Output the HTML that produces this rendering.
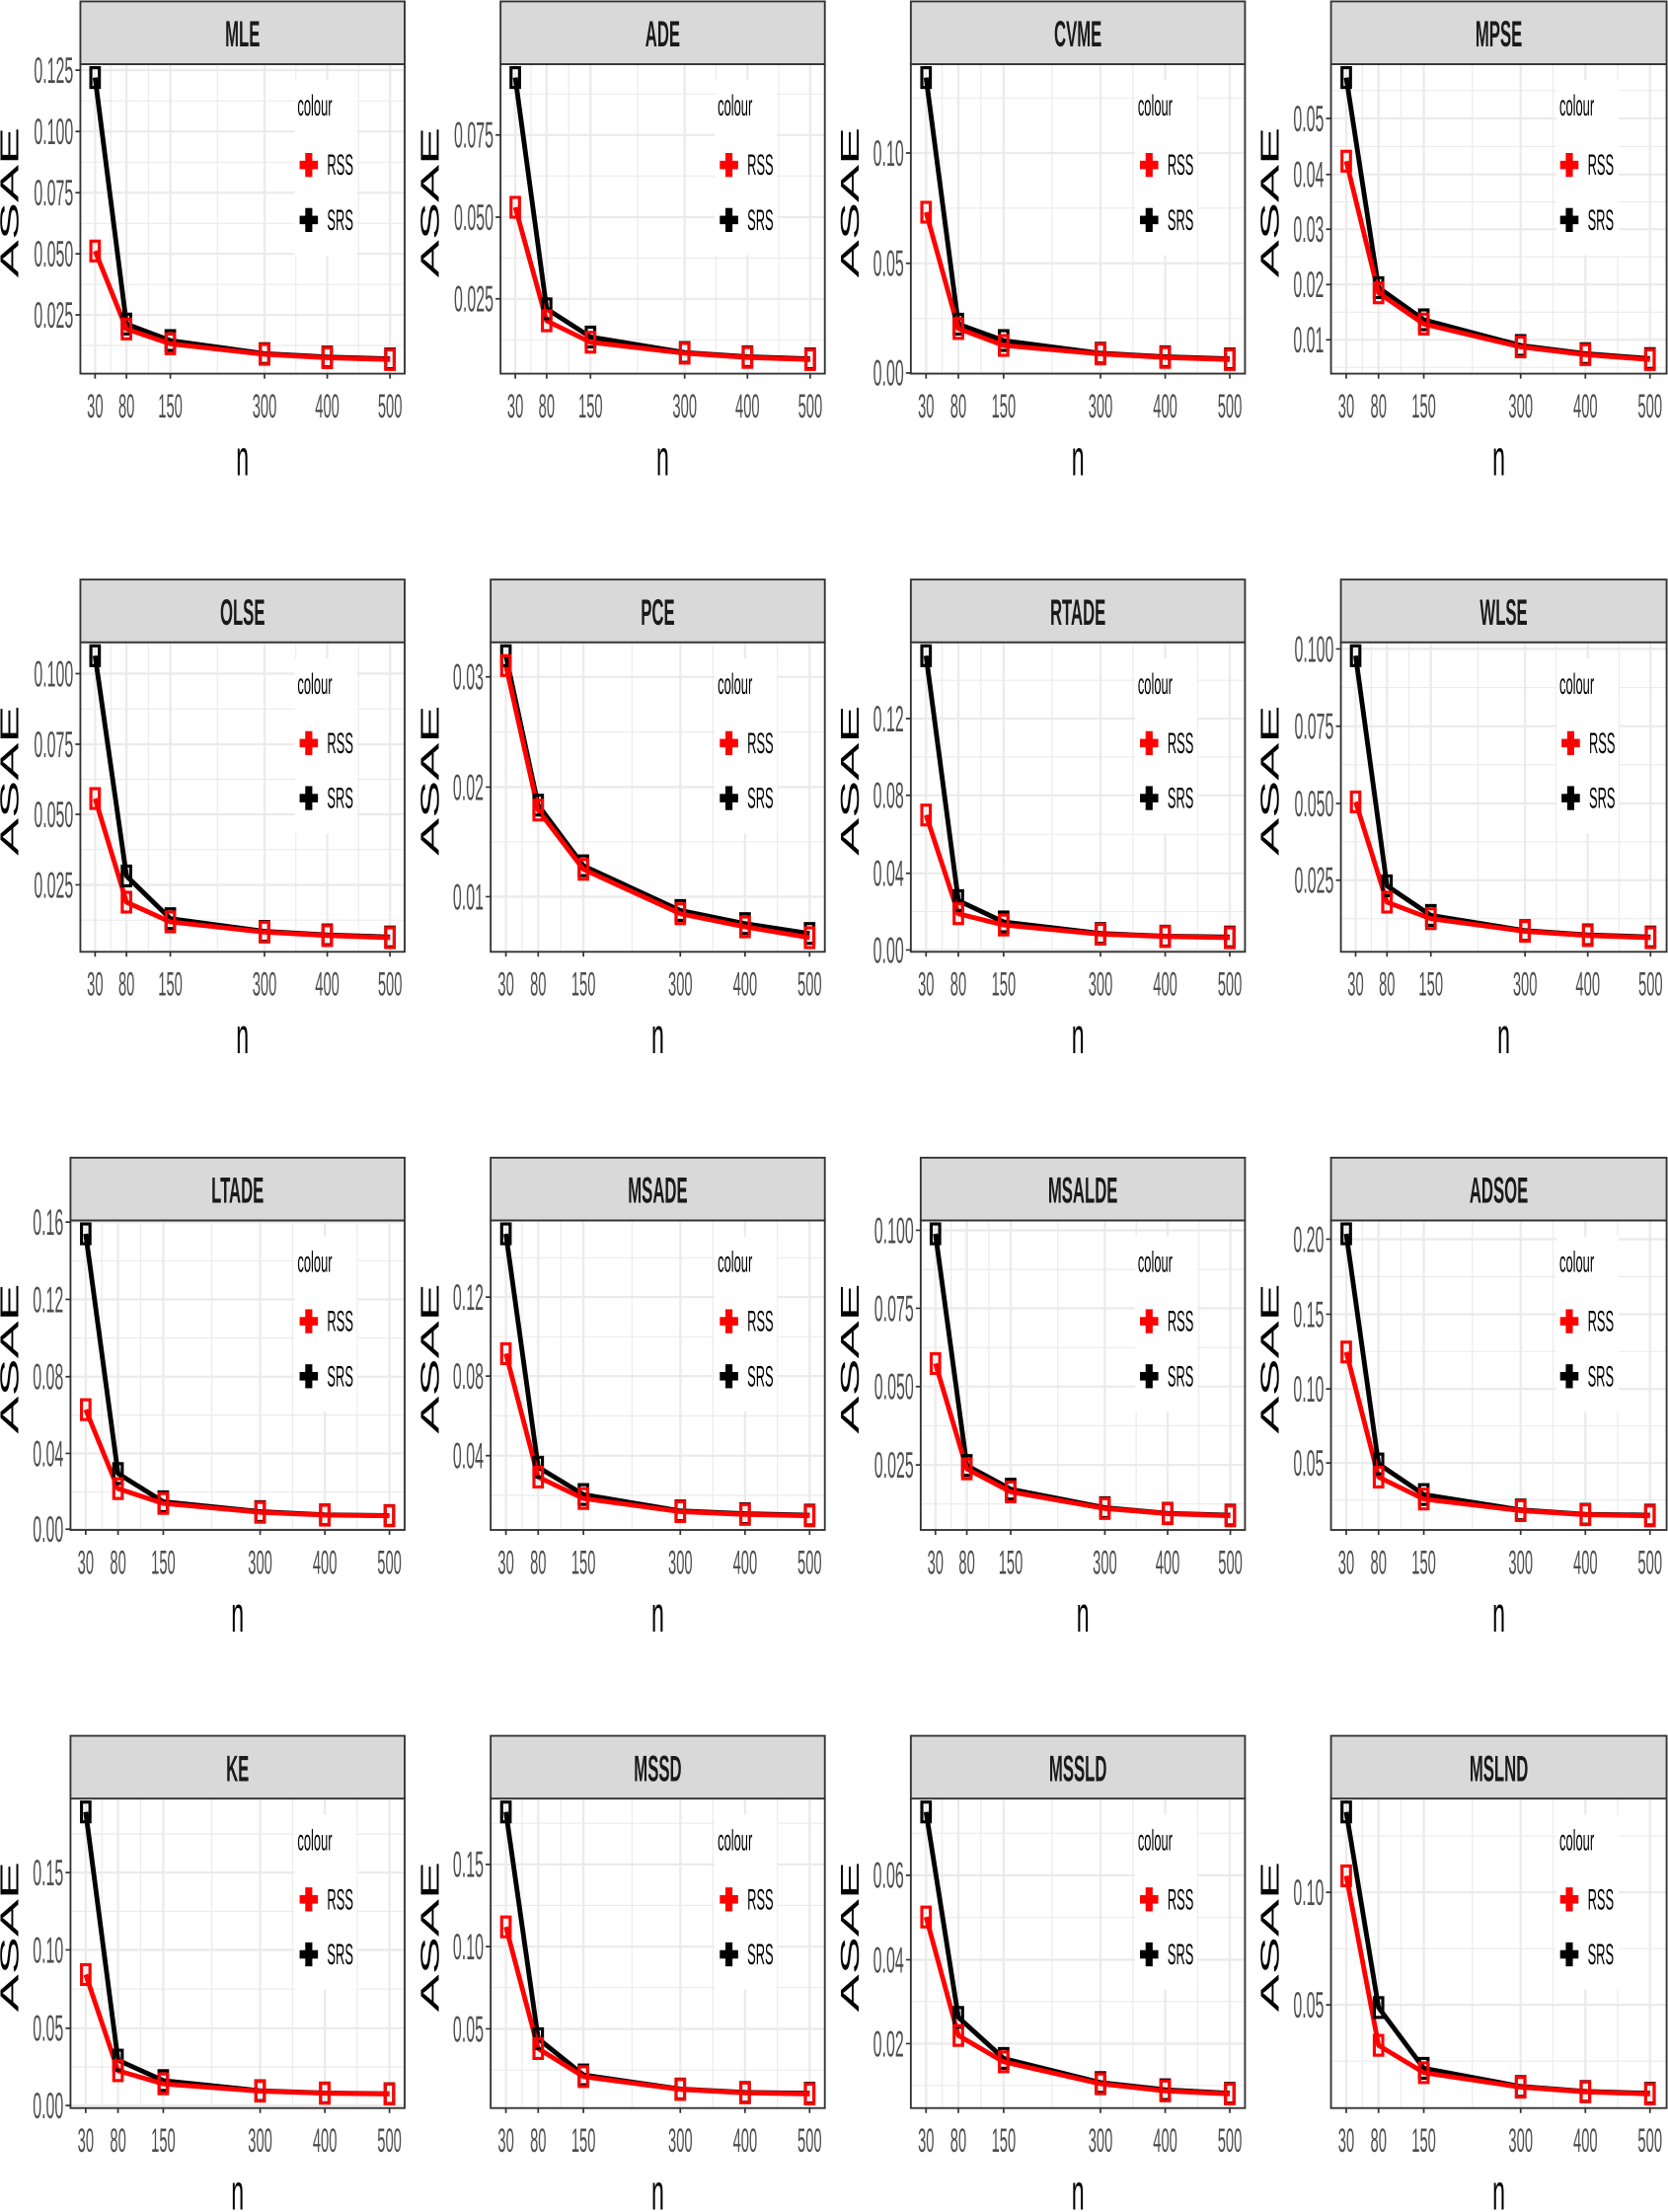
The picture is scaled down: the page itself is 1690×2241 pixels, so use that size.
<!DOCTYPE html>
<html><head><meta charset="utf-8"><style>
html,body{margin:0;padding:0;background:#fff}
svg{display:block}
text{font-family:"Liberation Sans",sans-serif}
.yt{font-size:26px;fill:#4d4d4d;text-anchor:end}
.xt{font-size:24px;fill:#4d4d4d;text-anchor:middle}
.st{font-size:26px;font-weight:bold;fill:#1a1a1a;text-anchor:middle}
.ax{font-size:36px;fill:#000;text-anchor:middle}
.yl{font-size:40px;fill:#000;text-anchor:middle}
.lg{font-size:21px;fill:#000}
.gm{stroke:#ebebeb;stroke-width:.8;fill:none}
.gM{stroke:#ebebeb;stroke-width:1.6;fill:none}
.sk{fill:none;stroke:#000;stroke-width:3.4;stroke-linejoin:round}
.sr{fill:none;stroke:#f00;stroke-width:3.4;stroke-linejoin:round}
.fr{fill:none;stroke:#333;stroke-width:1.3}
.sp{fill:#d9d9d9;stroke:#333;stroke-width:1.3}
.tk{stroke:#333;stroke-width:1.2;fill:none}
</style></head><body>
<svg width="1690" height="2241" viewBox="0 0 1183 1568.7" preserveAspectRatio="none" xmlns="http://www.w3.org/2000/svg" xmlns:xlink="http://www.w3.org/1999/xlink">
<defs>
<rect id="m" x="-3" y="-7" width="6" height="14" fill="none" stroke-width="2.2"/>
<g id="kR" fill="#f00"><rect x="-6.5" y="-3" width="13" height="6"/><rect x="-2.5" y="-8.5" width="5" height="17"/></g>
<g id="kS" fill="#000"><rect x="-6.5" y="-3" width="13" height="6"/><rect x="-2.5" y="-8.5" width="5" height="17"/></g>
<g id="vA"><path class="gm" d="M21.6 45.5V265M48.3 45.5V265M97.2 45.5V265M152.8 45.5V265M197.3 45.5V265"/><path class="gM" d="M10.45 45.5V265M32.7 45.5V265M63.8 45.5V265M130.6 45.5V265M175.1 45.5V265M219.6 45.5V265"/></g>
<g id="vB"><path class="gm" d="M22.2 45.5V265M49.7 45.5V265M100.2 45.5V265M157.5 45.5V265M203.3 45.5V265"/><path class="gM" d="M10.8 45.5V265M33.7 45.5V265M65.8 45.5V265M134.5 45.5V265M180.4 45.5V265M226.2 45.5V265"/></g>
<path id="tA" class="tk" d="M10.45 265v3.5M32.7 265v3.5M63.8 265v3.5M130.6 265v3.5M175.1 265v3.5M219.6 265v3.5"/>
<path id="tB" class="tk" d="M10.8 265v3.5M33.7 265v3.5M65.8 265v3.5M134.5 265v3.5M180.4 265v3.5M226.2 265v3.5"/>
</defs>

<!-- ROW 1 -->
<!-- MLE A -->
<g transform="translate(57,0)">
<rect x="0" y="45.5" width="230" height="219.5" fill="#fff"/>
<path class="gm" d="M0 71.5h230M0 115h230M0 158.4h230M0 201.7h230M0 245h230"/>
<path class="gM" d="M0 49.8h230M0 93.3h230M0 136.7h230M0 180h230M0 223.3h230"/>
<use xlink:href="#vA"/>
<rect x="152" y="57" width="44" height="124" fill="#fff"/>
<text class="lg" transform="translate(154,82) scale(.43,1)">colour</text>
<use xlink:href="#kR" x="162" y="117"/><text class="lg" transform="translate(175,124) scale(.43,1)">RSS</text>
<use xlink:href="#kS" x="162" y="156"/><text class="lg" transform="translate(175,163) scale(.43,1)">SRS</text>
<polyline class="sk" points="10.45,55 32.7,229.8 63.8,241.5 130.6,250.8 175.1,253.2 219.6,254.5"/>
<polyline class="sr" points="10.45,178 32.7,233.3 63.8,243.8 130.6,251.3 175.1,253.7 219.6,255"/>
<g stroke="#000"><use xlink:href="#m" x="10.45" y="55"/><use xlink:href="#m" x="32.7" y="229.8"/><use xlink:href="#m" x="63.8" y="241.5"/><use xlink:href="#m" x="130.6" y="250.8"/><use xlink:href="#m" x="175.1" y="253.2"/><use xlink:href="#m" x="219.6" y="254.5"/></g>
<g stroke="#f00"><use xlink:href="#m" x="10.45" y="178"/><use xlink:href="#m" x="32.7" y="233.3"/><use xlink:href="#m" x="63.8" y="243.8"/><use xlink:href="#m" x="130.6" y="251.3"/><use xlink:href="#m" x="175.1" y="253.7"/><use xlink:href="#m" x="219.6" y="255"/></g>
<rect class="fr" x="0" y="45.5" width="230" height="219.5"/>
<rect class="sp" x="0" y="1" width="230" height="44.5"/>
<text class="st" transform="translate(115,33) scale(.45,1)">MLE</text>
<path class="tk" d="M-3.5 49.8h3.5M-3.5 93.3h3.5M-3.5 136.7h3.5M-3.5 180h3.5M-3.5 223.3h3.5"/>
<text class="yt" transform="translate(-5,58.8) scale(.43,1)">0.125</text>
<text class="yt" transform="translate(-5,102.3) scale(.43,1)">0.100</text>
<text class="yt" transform="translate(-5,145.7) scale(.43,1)">0.075</text>
<text class="yt" transform="translate(-5,189) scale(.43,1)">0.050</text>
<text class="yt" transform="translate(-5,232.3) scale(.43,1)">0.025</text>
<use xlink:href="#tA"/>
<text class="xt" transform="translate(10.45,296) scale(.43,1)">30</text><text class="xt" transform="translate(32.7,296) scale(.43,1)">80</text><text class="xt" transform="translate(63.8,296) scale(.43,1)">150</text><text class="xt" transform="translate(130.6,296) scale(.43,1)">300</text><text class="xt" transform="translate(175.1,296) scale(.43,1)">400</text><text class="xt" transform="translate(219.6,296) scale(.43,1)">500</text>
<text class="ax" transform="translate(115,337) scale(.45,1)">n</text>
<text class="yl" transform="translate(-44,143.5) scale(.45,1) rotate(-90)">ASAE</text>
</g>

<!-- ADE A -->
<g transform="translate(355,0)">
<rect x="0" y="45.5" width="230" height="219.5" fill="#fff"/>
<path class="gm" d="M0 66.6h230M0 124.8h230M0 183h230M0 241h230"/>
<path class="gM" d="M0 95.7h230M0 154h230M0 211.9h230"/>
<use xlink:href="#vA"/>
<rect x="152" y="57" width="44" height="124" fill="#fff"/>
<text class="lg" transform="translate(154,82) scale(.43,1)">colour</text>
<use xlink:href="#kR" x="162" y="117"/><text class="lg" transform="translate(175,124) scale(.43,1)">RSS</text>
<use xlink:href="#kS" x="162" y="156"/><text class="lg" transform="translate(175,163) scale(.43,1)">SRS</text>
<polyline class="sk" points="10.45,55 32.7,219 63.8,239 130.6,250 175.1,253 219.6,254.5"/>
<polyline class="sr" points="10.45,147 32.7,227.5 63.8,242.7 130.6,250.5 175.1,253.5 219.6,255"/>
<g stroke="#000"><use xlink:href="#m" x="10.45" y="55"/><use xlink:href="#m" x="32.7" y="219"/><use xlink:href="#m" x="63.8" y="239"/><use xlink:href="#m" x="130.6" y="250"/><use xlink:href="#m" x="175.1" y="253"/><use xlink:href="#m" x="219.6" y="254.5"/></g>
<g stroke="#f00"><use xlink:href="#m" x="10.45" y="147"/><use xlink:href="#m" x="32.7" y="227.5"/><use xlink:href="#m" x="63.8" y="242.7"/><use xlink:href="#m" x="130.6" y="250.5"/><use xlink:href="#m" x="175.1" y="253.5"/><use xlink:href="#m" x="219.6" y="255"/></g>
<rect class="fr" x="0" y="45.5" width="230" height="219.5"/>
<rect class="sp" x="0" y="1" width="230" height="44.5"/>
<text class="st" transform="translate(115,33) scale(.45,1)">ADE</text>
<path class="tk" d="M-3.5 95.7h3.5M-3.5 154h3.5M-3.5 211.9h3.5"/>
<text class="yt" transform="translate(-5,104.7) scale(.43,1)">0.075</text>
<text class="yt" transform="translate(-5,163) scale(.43,1)">0.050</text>
<text class="yt" transform="translate(-5,220.9) scale(.43,1)">0.025</text>
<use xlink:href="#tA"/>
<text class="xt" transform="translate(10.45,296) scale(.43,1)">30</text><text class="xt" transform="translate(32.7,296) scale(.43,1)">80</text><text class="xt" transform="translate(63.8,296) scale(.43,1)">150</text><text class="xt" transform="translate(130.6,296) scale(.43,1)">300</text><text class="xt" transform="translate(175.1,296) scale(.43,1)">400</text><text class="xt" transform="translate(219.6,296) scale(.43,1)">500</text>
<text class="ax" transform="translate(115,337) scale(.45,1)">n</text>
<text class="yl" transform="translate(-44,143.5) scale(.45,1) rotate(-90)">ASAE</text>
</g>

<!-- CVME B -->
<g transform="translate(646,0)">
<rect x="0" y="45.5" width="237" height="219.5" fill="#fff"/>
<path class="gm" d="M0 69.4h237M0 147.6h237M0 225.9h237"/>
<path class="gM" d="M0 108.5h237M0 186.7h237M0 264.5h237"/>
<use xlink:href="#vB"/>
<rect x="159" y="57" width="44" height="124" fill="#fff"/>
<text class="lg" transform="translate(161,82) scale(.43,1)">colour</text>
<use xlink:href="#kR" x="169" y="117"/><text class="lg" transform="translate(182,124) scale(.43,1)">RSS</text>
<use xlink:href="#kS" x="169" y="156"/><text class="lg" transform="translate(182,163) scale(.43,1)">SRS</text>
<polyline class="sk" points="10.8,55 33.7,229.9 65.8,241.5 134.5,250.5 180.4,253 226.2,254.5"/>
<polyline class="sr" points="10.8,150.5 33.7,233 65.8,245 134.5,251 180.4,253.5 226.2,255"/>
<g stroke="#000"><use xlink:href="#m" x="10.8" y="55"/><use xlink:href="#m" x="33.7" y="229.9"/><use xlink:href="#m" x="65.8" y="241.5"/><use xlink:href="#m" x="134.5" y="250.5"/><use xlink:href="#m" x="180.4" y="253"/><use xlink:href="#m" x="226.2" y="254.5"/></g>
<g stroke="#f00"><use xlink:href="#m" x="10.8" y="150.5"/><use xlink:href="#m" x="33.7" y="233"/><use xlink:href="#m" x="65.8" y="245"/><use xlink:href="#m" x="134.5" y="251"/><use xlink:href="#m" x="180.4" y="253.5"/><use xlink:href="#m" x="226.2" y="255"/></g>
<rect class="fr" x="0" y="45.5" width="237" height="219.5"/>
<rect class="sp" x="0" y="1" width="237" height="44.5"/>
<text class="st" transform="translate(118.5,33) scale(.45,1)">CVME</text>
<path class="tk" d="M-3.5 108.5h3.5M-3.5 186.7h3.5M-3.5 264.5h3.5"/>
<text class="yt" transform="translate(-5,117.5) scale(.43,1)">0.10</text>
<text class="yt" transform="translate(-5,195.7) scale(.43,1)">0.05</text>
<text class="yt" transform="translate(-5,273.5) scale(.43,1)">0.00</text>
<use xlink:href="#tB"/>
<text class="xt" transform="translate(10.8,296) scale(.43,1)">30</text><text class="xt" transform="translate(33.7,296) scale(.43,1)">80</text><text class="xt" transform="translate(65.8,296) scale(.43,1)">150</text><text class="xt" transform="translate(134.5,296) scale(.43,1)">300</text><text class="xt" transform="translate(180.4,296) scale(.43,1)">400</text><text class="xt" transform="translate(226.2,296) scale(.43,1)">500</text>
<text class="ax" transform="translate(118.5,337) scale(.45,1)">n</text>
<text class="yl" transform="translate(-37,143.5) scale(.45,1) rotate(-90)">ASAE</text>
</g>

<!-- MPSE B -->
<g transform="translate(944,0)">
<rect x="0" y="45.5" width="238" height="219.5" fill="#fff"/>
<path class="gm" d="M0 64.3h238M0 103.9h238M0 143.2h238M0 182.2h238M0 221.4h238M0 260.6h238"/>
<path class="gM" d="M0 84h238M0 123.7h238M0 162.6h238M0 201.8h238M0 241h238"/>
<use xlink:href="#vB"/>
<rect x="160" y="57" width="44" height="124" fill="#fff"/>
<text class="lg" transform="translate(162,82) scale(.43,1)">colour</text>
<use xlink:href="#kR" x="169" y="117"/><text class="lg" transform="translate(182,124) scale(.43,1)">RSS</text>
<use xlink:href="#kS" x="169" y="156"/><text class="lg" transform="translate(182,163) scale(.43,1)">SRS</text>
<polyline class="sk" points="10.8,55 33.7,204 65.8,226.8 134.5,245 180.4,250.8 226.2,254.3"/>
<polyline class="sr" points="10.8,114.3 33.7,207.7 65.8,229.8 134.5,246 180.4,251.5 226.2,255"/>
<g stroke="#000"><use xlink:href="#m" x="10.8" y="55"/><use xlink:href="#m" x="33.7" y="204"/><use xlink:href="#m" x="65.8" y="226.8"/><use xlink:href="#m" x="134.5" y="245"/><use xlink:href="#m" x="180.4" y="250.8"/><use xlink:href="#m" x="226.2" y="254.3"/></g>
<g stroke="#f00"><use xlink:href="#m" x="10.8" y="114.3"/><use xlink:href="#m" x="33.7" y="207.7"/><use xlink:href="#m" x="65.8" y="229.8"/><use xlink:href="#m" x="134.5" y="246"/><use xlink:href="#m" x="180.4" y="251.5"/><use xlink:href="#m" x="226.2" y="255"/></g>
<rect class="fr" x="0" y="45.5" width="238" height="219.5"/>
<rect class="sp" x="0" y="1" width="238" height="44.5"/>
<text class="st" transform="translate(119,33) scale(.45,1)">MPSE</text>
<path class="tk" d="M-3.5 84h3.5M-3.5 123.7h3.5M-3.5 162.6h3.5M-3.5 201.8h3.5M-3.5 241h3.5"/>
<text class="yt" transform="translate(-5,93) scale(.43,1)">0.05</text>
<text class="yt" transform="translate(-5,132.7) scale(.43,1)">0.04</text>
<text class="yt" transform="translate(-5,171.6) scale(.43,1)">0.03</text>
<text class="yt" transform="translate(-5,210.8) scale(.43,1)">0.02</text>
<text class="yt" transform="translate(-5,250) scale(.43,1)">0.01</text>
<use xlink:href="#tB"/>
<text class="xt" transform="translate(10.8,296) scale(.43,1)">30</text><text class="xt" transform="translate(33.7,296) scale(.43,1)">80</text><text class="xt" transform="translate(65.8,296) scale(.43,1)">150</text><text class="xt" transform="translate(134.5,296) scale(.43,1)">300</text><text class="xt" transform="translate(180.4,296) scale(.43,1)">400</text><text class="xt" transform="translate(226.2,296) scale(.43,1)">500</text>
<text class="ax" transform="translate(119,337) scale(.45,1)">n</text>
<text class="yl" transform="translate(-37,143.5) scale(.45,1) rotate(-90)">ASAE</text>
</g>

<!-- ROW 2 -->
<!-- OLSE A -->
<g transform="translate(57,410)">
<rect x="0" y="45.5" width="230" height="219.5" fill="#fff"/>
<path class="gm" d="M0 92.7h230M0 142.6h230M0 192.5h230M0 242.5h230"/>
<path class="gM" d="M0 67.7h230M0 117.8h230M0 167.5h230M0 217.5h230"/>
<use xlink:href="#vA"/>
<rect x="152" y="57" width="44" height="124" fill="#fff"/>
<text class="lg" transform="translate(154,82) scale(.43,1)">colour</text>
<use xlink:href="#kR" x="162" y="117"/><text class="lg" transform="translate(175,124) scale(.43,1)">RSS</text>
<use xlink:href="#kS" x="162" y="156"/><text class="lg" transform="translate(175,163) scale(.43,1)">SRS</text>
<polyline class="sk" points="10.45,55 32.7,211.2 63.8,241.5 130.6,250.5 175.1,253 219.6,254.5"/>
<polyline class="sr" points="10.45,156.3 32.7,229.8 63.8,243.8 130.6,251 175.1,253.5 219.6,255"/>
<g stroke="#000"><use xlink:href="#m" x="10.45" y="55"/><use xlink:href="#m" x="32.7" y="211.2"/><use xlink:href="#m" x="63.8" y="241.5"/><use xlink:href="#m" x="130.6" y="250.5"/><use xlink:href="#m" x="175.1" y="253"/><use xlink:href="#m" x="219.6" y="254.5"/></g>
<g stroke="#f00"><use xlink:href="#m" x="10.45" y="156.3"/><use xlink:href="#m" x="32.7" y="229.8"/><use xlink:href="#m" x="63.8" y="243.8"/><use xlink:href="#m" x="130.6" y="251"/><use xlink:href="#m" x="175.1" y="253.5"/><use xlink:href="#m" x="219.6" y="255"/></g>
<rect class="fr" x="0" y="45.5" width="230" height="219.5"/>
<rect class="sp" x="0" y="1" width="230" height="44.5"/>
<text class="st" transform="translate(115,33) scale(.45,1)">OLSE</text>
<path class="tk" d="M-3.5 67.7h3.5M-3.5 117.8h3.5M-3.5 167.5h3.5M-3.5 217.5h3.5"/>
<text class="yt" transform="translate(-5,76.7) scale(.43,1)">0.100</text>
<text class="yt" transform="translate(-5,126.8) scale(.43,1)">0.075</text>
<text class="yt" transform="translate(-5,176.5) scale(.43,1)">0.050</text>
<text class="yt" transform="translate(-5,226.5) scale(.43,1)">0.025</text>
<use xlink:href="#tA"/>
<text class="xt" transform="translate(10.45,296) scale(.43,1)">30</text><text class="xt" transform="translate(32.7,296) scale(.43,1)">80</text><text class="xt" transform="translate(63.8,296) scale(.43,1)">150</text><text class="xt" transform="translate(130.6,296) scale(.43,1)">300</text><text class="xt" transform="translate(175.1,296) scale(.43,1)">400</text><text class="xt" transform="translate(219.6,296) scale(.43,1)">500</text>
<text class="ax" transform="translate(115,337) scale(.45,1)">n</text>
<text class="yl" transform="translate(-44,143.5) scale(.45,1) rotate(-90)">ASAE</text>
</g>

<!-- PCE B -->
<g transform="translate(348,410)">
<rect x="0" y="45.5" width="237" height="219.5" fill="#fff"/>
<path class="gm" d="M0 109.1h237M0 187h237"/>
<path class="gM" d="M0 70h237M0 148.2h237M0 225.9h237"/>
<use xlink:href="#vB"/>
<rect x="159" y="57" width="44" height="124" fill="#fff"/>
<text class="lg" transform="translate(161,82) scale(.43,1)">colour</text>
<use xlink:href="#kR" x="169" y="117"/><text class="lg" transform="translate(182,124) scale(.43,1)">RSS</text>
<use xlink:href="#kS" x="169" y="156"/><text class="lg" transform="translate(182,163) scale(.43,1)">SRS</text>
<polyline class="sk" points="10.8,55 33.7,161 65.8,204 134.5,235.7 180.4,245 226.2,252"/>
<polyline class="sr" points="10.8,62 33.7,164.5 65.8,206.5 134.5,238 180.4,247.3 226.2,255"/>
<g stroke="#000"><use xlink:href="#m" x="10.8" y="55"/><use xlink:href="#m" x="33.7" y="161"/><use xlink:href="#m" x="65.8" y="204"/><use xlink:href="#m" x="134.5" y="235.7"/><use xlink:href="#m" x="180.4" y="245"/><use xlink:href="#m" x="226.2" y="252"/></g>
<g stroke="#f00"><use xlink:href="#m" x="10.8" y="62"/><use xlink:href="#m" x="33.7" y="164.5"/><use xlink:href="#m" x="65.8" y="206.5"/><use xlink:href="#m" x="134.5" y="238"/><use xlink:href="#m" x="180.4" y="247.3"/><use xlink:href="#m" x="226.2" y="255"/></g>
<rect class="fr" x="0" y="45.5" width="237" height="219.5"/>
<rect class="sp" x="0" y="1" width="237" height="44.5"/>
<text class="st" transform="translate(118.5,33) scale(.45,1)">PCE</text>
<path class="tk" d="M-3.5 70h3.5M-3.5 148.2h3.5M-3.5 225.9h3.5"/>
<text class="yt" transform="translate(-5,79) scale(.43,1)">0.03</text>
<text class="yt" transform="translate(-5,157.2) scale(.43,1)">0.02</text>
<text class="yt" transform="translate(-5,234.9) scale(.43,1)">0.01</text>
<use xlink:href="#tB"/>
<text class="xt" transform="translate(10.8,296) scale(.43,1)">30</text><text class="xt" transform="translate(33.7,296) scale(.43,1)">80</text><text class="xt" transform="translate(65.8,296) scale(.43,1)">150</text><text class="xt" transform="translate(134.5,296) scale(.43,1)">300</text><text class="xt" transform="translate(180.4,296) scale(.43,1)">400</text><text class="xt" transform="translate(226.2,296) scale(.43,1)">500</text>
<text class="ax" transform="translate(118.5,337) scale(.45,1)">n</text>
<text class="yl" transform="translate(-37,143.5) scale(.45,1) rotate(-90)">ASAE</text>
</g>

<!-- RTADE B -->
<g transform="translate(646,410)">
<rect x="0" y="45.5" width="237" height="219.5" fill="#fff"/>
<path class="gm" d="M0 72.4h237M0 126.8h237M0 181.6h237M0 236.5h237"/>
<path class="gM" d="M0 99.6h237M0 154h237M0 209.3h237M0 263.7h237"/>
<use xlink:href="#vB"/>
<rect x="159" y="57" width="44" height="124" fill="#fff"/>
<text class="lg" transform="translate(161,82) scale(.43,1)">colour</text>
<use xlink:href="#kR" x="169" y="117"/><text class="lg" transform="translate(182,124) scale(.43,1)">RSS</text>
<use xlink:href="#kS" x="169" y="156"/><text class="lg" transform="translate(182,163) scale(.43,1)">SRS</text>
<polyline class="sk" points="10.8,55 33.7,228.7 65.8,243.8 134.5,252 180.4,253.9 226.2,254.5"/>
<polyline class="sr" points="10.8,168 33.7,238 65.8,246 134.5,252.5 180.4,254.2 226.2,255"/>
<g stroke="#000"><use xlink:href="#m" x="10.8" y="55"/><use xlink:href="#m" x="33.7" y="228.7"/><use xlink:href="#m" x="65.8" y="243.8"/><use xlink:href="#m" x="134.5" y="252"/><use xlink:href="#m" x="180.4" y="253.9"/><use xlink:href="#m" x="226.2" y="254.5"/></g>
<g stroke="#f00"><use xlink:href="#m" x="10.8" y="168"/><use xlink:href="#m" x="33.7" y="238"/><use xlink:href="#m" x="65.8" y="246"/><use xlink:href="#m" x="134.5" y="252.5"/><use xlink:href="#m" x="180.4" y="254.2"/><use xlink:href="#m" x="226.2" y="255"/></g>
<rect class="fr" x="0" y="45.5" width="237" height="219.5"/>
<rect class="sp" x="0" y="1" width="237" height="44.5"/>
<text class="st" transform="translate(118.5,33) scale(.45,1)">RTADE</text>
<path class="tk" d="M-3.5 99.6h3.5M-3.5 154h3.5M-3.5 209.3h3.5M-3.5 263.7h3.5"/>
<text class="yt" transform="translate(-5,108.6) scale(.43,1)">0.12</text>
<text class="yt" transform="translate(-5,163) scale(.43,1)">0.08</text>
<text class="yt" transform="translate(-5,218.3) scale(.43,1)">0.04</text>
<text class="yt" transform="translate(-5,272.7) scale(.43,1)">0.00</text>
<use xlink:href="#tB"/>
<text class="xt" transform="translate(10.8,296) scale(.43,1)">30</text><text class="xt" transform="translate(33.7,296) scale(.43,1)">80</text><text class="xt" transform="translate(65.8,296) scale(.43,1)">150</text><text class="xt" transform="translate(134.5,296) scale(.43,1)">300</text><text class="xt" transform="translate(180.4,296) scale(.43,1)">400</text><text class="xt" transform="translate(226.2,296) scale(.43,1)">500</text>
<text class="ax" transform="translate(118.5,337) scale(.45,1)">n</text>
<text class="yl" transform="translate(-37,143.5) scale(.45,1) rotate(-90)">ASAE</text>
</g>

<!-- WLSE A -->
<g transform="translate(951,410)">
<rect x="0" y="45.5" width="231" height="219.5" fill="#fff"/>
<path class="gm" d="M0 77.6h231M0 132.4h231M0 187h231M0 241.6h231"/>
<path class="gM" d="M0 50.2h231M0 105h231M0 159.8h231M0 214.2h231"/>
<use xlink:href="#vA"/>
<rect x="153" y="57" width="44" height="124" fill="#fff"/>
<text class="lg" transform="translate(155,82) scale(.43,1)">colour</text>
<use xlink:href="#kR" x="163" y="117"/><text class="lg" transform="translate(176,124) scale(.43,1)">RSS</text>
<use xlink:href="#kS" x="163" y="156"/><text class="lg" transform="translate(176,163) scale(.43,1)">SRS</text>
<polyline class="sk" points="10.45,55 32.7,218.2 63.8,239.2 130.6,250 175.1,253 219.6,254.5"/>
<polyline class="sr" points="10.45,158.7 32.7,229.8 63.8,241.5 130.6,250.5 175.1,253.5 219.6,255"/>
<g stroke="#000"><use xlink:href="#m" x="10.45" y="55"/><use xlink:href="#m" x="32.7" y="218.2"/><use xlink:href="#m" x="63.8" y="239.2"/><use xlink:href="#m" x="130.6" y="250"/><use xlink:href="#m" x="175.1" y="253"/><use xlink:href="#m" x="219.6" y="254.5"/></g>
<g stroke="#f00"><use xlink:href="#m" x="10.45" y="158.7"/><use xlink:href="#m" x="32.7" y="229.8"/><use xlink:href="#m" x="63.8" y="241.5"/><use xlink:href="#m" x="130.6" y="250.5"/><use xlink:href="#m" x="175.1" y="253.5"/><use xlink:href="#m" x="219.6" y="255"/></g>
<rect class="fr" x="0" y="45.5" width="231" height="219.5"/>
<rect class="sp" x="0" y="1" width="231" height="44.5"/>
<text class="st" transform="translate(115.5,33) scale(.45,1)">WLSE</text>
<path class="tk" d="M-3.5 50.2h3.5M-3.5 105h3.5M-3.5 159.8h3.5M-3.5 214.2h3.5"/>
<text class="yt" transform="translate(-5,59.2) scale(.43,1)">0.100</text>
<text class="yt" transform="translate(-5,114) scale(.43,1)">0.075</text>
<text class="yt" transform="translate(-5,168.8) scale(.43,1)">0.050</text>
<text class="yt" transform="translate(-5,223.2) scale(.43,1)">0.025</text>
<use xlink:href="#tA"/>
<text class="xt" transform="translate(10.45,296) scale(.43,1)">30</text><text class="xt" transform="translate(32.7,296) scale(.43,1)">80</text><text class="xt" transform="translate(63.8,296) scale(.43,1)">150</text><text class="xt" transform="translate(130.6,296) scale(.43,1)">300</text><text class="xt" transform="translate(175.1,296) scale(.43,1)">400</text><text class="xt" transform="translate(219.6,296) scale(.43,1)">500</text>
<text class="ax" transform="translate(115.5,337) scale(.45,1)">n</text>
<text class="yl" transform="translate(-44,143.5) scale(.45,1) rotate(-90)">ASAE</text>
</g>

<!-- ROW 3 -->
<!-- LTADE B -->
<g transform="translate(50,820)">
<rect x="0" y="45.5" width="237" height="219.5" fill="#fff"/>
<path class="gm" d="M0 74.1h237M0 128.9h237M0 183.5h237M0 238h237"/>
<path class="gM" d="M0 46.7h237M0 101.5h237M0 156.3h237M0 210.7h237M0 264.5h237"/>
<use xlink:href="#vB"/>
<rect x="159" y="57" width="44" height="124" fill="#fff"/>
<text class="lg" transform="translate(161,82) scale(.43,1)">colour</text>
<use xlink:href="#kR" x="169" y="117"/><text class="lg" transform="translate(182,124) scale(.43,1)">RSS</text>
<use xlink:href="#kS" x="169" y="156"/><text class="lg" transform="translate(182,163) scale(.43,1)">SRS</text>
<polyline class="sk" points="10.8,55 33.7,225 65.8,245 134.5,252 180.4,254.3 226.2,254.8"/>
<polyline class="sr" points="10.8,179.7 33.7,235.7 65.8,246.2 134.5,252.5 180.4,254.5 226.2,255"/>
<g stroke="#000"><use xlink:href="#m" x="10.8" y="55"/><use xlink:href="#m" x="33.7" y="225"/><use xlink:href="#m" x="65.8" y="245"/><use xlink:href="#m" x="134.5" y="252"/><use xlink:href="#m" x="180.4" y="254.3"/><use xlink:href="#m" x="226.2" y="254.8"/></g>
<g stroke="#f00"><use xlink:href="#m" x="10.8" y="179.7"/><use xlink:href="#m" x="33.7" y="235.7"/><use xlink:href="#m" x="65.8" y="246.2"/><use xlink:href="#m" x="134.5" y="252.5"/><use xlink:href="#m" x="180.4" y="254.5"/><use xlink:href="#m" x="226.2" y="255"/></g>
<rect class="fr" x="0" y="45.5" width="237" height="219.5"/>
<rect class="sp" x="0" y="1" width="237" height="44.5"/>
<text class="st" transform="translate(118.5,33) scale(.45,1)">LTADE</text>
<path class="tk" d="M-3.5 46.7h3.5M-3.5 101.5h3.5M-3.5 156.3h3.5M-3.5 210.7h3.5M-3.5 264.5h3.5"/>
<text class="yt" transform="translate(-5,55.7) scale(.43,1)">0.16</text>
<text class="yt" transform="translate(-5,110.5) scale(.43,1)">0.12</text>
<text class="yt" transform="translate(-5,165.3) scale(.43,1)">0.08</text>
<text class="yt" transform="translate(-5,219.7) scale(.43,1)">0.04</text>
<text class="yt" transform="translate(-5,273.5) scale(.43,1)">0.00</text>
<use xlink:href="#tB"/>
<text class="xt" transform="translate(10.8,296) scale(.43,1)">30</text><text class="xt" transform="translate(33.7,296) scale(.43,1)">80</text><text class="xt" transform="translate(65.8,296) scale(.43,1)">150</text><text class="xt" transform="translate(134.5,296) scale(.43,1)">300</text><text class="xt" transform="translate(180.4,296) scale(.43,1)">400</text><text class="xt" transform="translate(226.2,296) scale(.43,1)">500</text>
<text class="ax" transform="translate(118.5,337) scale(.45,1)">n</text>
<text class="yl" transform="translate(-37,143.5) scale(.45,1) rotate(-90)">ASAE</text>
</g>

<!-- MSADE B -->
<g transform="translate(348,820)">
<rect x="0" y="45.5" width="237" height="219.5" fill="#fff"/>
<path class="gm" d="M0 71.9h237M0 127.9h237M0 184.1h237M0 240.5h237"/>
<path class="gM" d="M0 99.9h237M0 155.9h237M0 212.3h237"/>
<use xlink:href="#vB"/>
<rect x="159" y="57" width="44" height="124" fill="#fff"/>
<text class="lg" transform="translate(161,82) scale(.43,1)">colour</text>
<use xlink:href="#kR" x="169" y="117"/><text class="lg" transform="translate(182,124) scale(.43,1)">RSS</text>
<use xlink:href="#kS" x="169" y="156"/><text class="lg" transform="translate(182,163) scale(.43,1)">SRS</text>
<polyline class="sk" points="10.8,55 33.7,220.5 65.8,239.9 134.5,251.5 180.4,253.5 226.2,254.5"/>
<polyline class="sr" points="10.8,140 33.7,227.5 65.8,242.7 134.5,252 180.4,254 226.2,255"/>
<g stroke="#000"><use xlink:href="#m" x="10.8" y="55"/><use xlink:href="#m" x="33.7" y="220.5"/><use xlink:href="#m" x="65.8" y="239.9"/><use xlink:href="#m" x="134.5" y="251.5"/><use xlink:href="#m" x="180.4" y="253.5"/><use xlink:href="#m" x="226.2" y="254.5"/></g>
<g stroke="#f00"><use xlink:href="#m" x="10.8" y="140"/><use xlink:href="#m" x="33.7" y="227.5"/><use xlink:href="#m" x="65.8" y="242.7"/><use xlink:href="#m" x="134.5" y="252"/><use xlink:href="#m" x="180.4" y="254"/><use xlink:href="#m" x="226.2" y="255"/></g>
<rect class="fr" x="0" y="45.5" width="237" height="219.5"/>
<rect class="sp" x="0" y="1" width="237" height="44.5"/>
<text class="st" transform="translate(118.5,33) scale(.45,1)">MSADE</text>
<path class="tk" d="M-3.5 99.9h3.5M-3.5 155.9h3.5M-3.5 212.3h3.5"/>
<text class="yt" transform="translate(-5,108.9) scale(.43,1)">0.12</text>
<text class="yt" transform="translate(-5,164.9) scale(.43,1)">0.08</text>
<text class="yt" transform="translate(-5,221.3) scale(.43,1)">0.04</text>
<use xlink:href="#tB"/>
<text class="xt" transform="translate(10.8,296) scale(.43,1)">30</text><text class="xt" transform="translate(33.7,296) scale(.43,1)">80</text><text class="xt" transform="translate(65.8,296) scale(.43,1)">150</text><text class="xt" transform="translate(134.5,296) scale(.43,1)">300</text><text class="xt" transform="translate(180.4,296) scale(.43,1)">400</text><text class="xt" transform="translate(226.2,296) scale(.43,1)">500</text>
<text class="ax" transform="translate(118.5,337) scale(.45,1)">n</text>
<text class="yl" transform="translate(-37,143.5) scale(.45,1) rotate(-90)">ASAE</text>
</g>

<!-- MSALDE A -->
<g transform="translate(653,820)">
<rect x="0" y="45.5" width="230" height="219.5" fill="#fff"/>
<path class="gm" d="M0 80.2h230M0 135.6h230M0 191.1h230M0 246.6h230"/>
<path class="gM" d="M0 52.5h230M0 107.8h230M0 163.3h230M0 218.9h230"/>
<use xlink:href="#vA"/>
<rect x="152" y="57" width="44" height="124" fill="#fff"/>
<text class="lg" transform="translate(154,82) scale(.43,1)">colour</text>
<use xlink:href="#kR" x="162" y="117"/><text class="lg" transform="translate(175,124) scale(.43,1)">RSS</text>
<use xlink:href="#kS" x="162" y="156"/><text class="lg" transform="translate(175,163) scale(.43,1)">SRS</text>
<polyline class="sk" points="10.45,55 32.7,219.3 63.8,236.1 130.6,249.2 175.1,253.2 219.6,254.5"/>
<polyline class="sr" points="10.45,147 32.7,221.7 63.8,238 130.6,249.8 175.1,253.5 219.6,255"/>
<g stroke="#000"><use xlink:href="#m" x="10.45" y="55"/><use xlink:href="#m" x="32.7" y="219.3"/><use xlink:href="#m" x="63.8" y="236.1"/><use xlink:href="#m" x="130.6" y="249.2"/><use xlink:href="#m" x="175.1" y="253.2"/><use xlink:href="#m" x="219.6" y="254.5"/></g>
<g stroke="#f00"><use xlink:href="#m" x="10.45" y="147"/><use xlink:href="#m" x="32.7" y="221.7"/><use xlink:href="#m" x="63.8" y="238"/><use xlink:href="#m" x="130.6" y="249.8"/><use xlink:href="#m" x="175.1" y="253.5"/><use xlink:href="#m" x="219.6" y="255"/></g>
<rect class="fr" x="0" y="45.5" width="230" height="219.5"/>
<rect class="sp" x="0" y="1" width="230" height="44.5"/>
<text class="st" transform="translate(115,33) scale(.45,1)">MSALDE</text>
<path class="tk" d="M-3.5 52.5h3.5M-3.5 107.8h3.5M-3.5 163.3h3.5M-3.5 218.9h3.5"/>
<text class="yt" transform="translate(-5,61.5) scale(.43,1)">0.100</text>
<text class="yt" transform="translate(-5,116.8) scale(.43,1)">0.075</text>
<text class="yt" transform="translate(-5,172.3) scale(.43,1)">0.050</text>
<text class="yt" transform="translate(-5,227.9) scale(.43,1)">0.025</text>
<use xlink:href="#tA"/>
<text class="xt" transform="translate(10.45,296) scale(.43,1)">30</text><text class="xt" transform="translate(32.7,296) scale(.43,1)">80</text><text class="xt" transform="translate(63.8,296) scale(.43,1)">150</text><text class="xt" transform="translate(130.6,296) scale(.43,1)">300</text><text class="xt" transform="translate(175.1,296) scale(.43,1)">400</text><text class="xt" transform="translate(219.6,296) scale(.43,1)">500</text>
<text class="ax" transform="translate(115,337) scale(.45,1)">n</text>
<text class="yl" transform="translate(-44,143.5) scale(.45,1) rotate(-90)">ASAE</text>
</g>

<!-- ADSOE B -->
<g transform="translate(944,820)">
<rect x="0" y="45.5" width="238" height="219.5" fill="#fff"/>
<path class="gm" d="M0 85.4h238M0 138.5h238M0 191.3h238M0 243.8h238"/>
<path class="gM" d="M0 58.8h238M0 112h238M0 165h238M0 217.5h238"/>
<use xlink:href="#vB"/>
<rect x="160" y="57" width="44" height="124" fill="#fff"/>
<text class="lg" transform="translate(162,82) scale(.43,1)">colour</text>
<use xlink:href="#kR" x="169" y="117"/><text class="lg" transform="translate(182,124) scale(.43,1)">RSS</text>
<use xlink:href="#kS" x="169" y="156"/><text class="lg" transform="translate(182,163) scale(.43,1)">SRS</text>
<polyline class="sk" points="10.8,55 33.7,218.2 65.8,239.9 134.5,250.8 180.4,253.9 226.2,254.5"/>
<polyline class="sr" points="10.8,138.8 33.7,227.5 65.8,243.1 134.5,251.3 180.4,254.2 226.2,255"/>
<g stroke="#000"><use xlink:href="#m" x="10.8" y="55"/><use xlink:href="#m" x="33.7" y="218.2"/><use xlink:href="#m" x="65.8" y="239.9"/><use xlink:href="#m" x="134.5" y="250.8"/><use xlink:href="#m" x="180.4" y="253.9"/><use xlink:href="#m" x="226.2" y="254.5"/></g>
<g stroke="#f00"><use xlink:href="#m" x="10.8" y="138.8"/><use xlink:href="#m" x="33.7" y="227.5"/><use xlink:href="#m" x="65.8" y="243.1"/><use xlink:href="#m" x="134.5" y="251.3"/><use xlink:href="#m" x="180.4" y="254.2"/><use xlink:href="#m" x="226.2" y="255"/></g>
<rect class="fr" x="0" y="45.5" width="238" height="219.5"/>
<rect class="sp" x="0" y="1" width="238" height="44.5"/>
<text class="st" transform="translate(119,33) scale(.45,1)">ADSOE</text>
<path class="tk" d="M-3.5 58.8h3.5M-3.5 112h3.5M-3.5 165h3.5M-3.5 217.5h3.5"/>
<text class="yt" transform="translate(-5,67.8) scale(.43,1)">0.20</text>
<text class="yt" transform="translate(-5,121) scale(.43,1)">0.15</text>
<text class="yt" transform="translate(-5,174) scale(.43,1)">0.10</text>
<text class="yt" transform="translate(-5,226.5) scale(.43,1)">0.05</text>
<use xlink:href="#tB"/>
<text class="xt" transform="translate(10.8,296) scale(.43,1)">30</text><text class="xt" transform="translate(33.7,296) scale(.43,1)">80</text><text class="xt" transform="translate(65.8,296) scale(.43,1)">150</text><text class="xt" transform="translate(134.5,296) scale(.43,1)">300</text><text class="xt" transform="translate(180.4,296) scale(.43,1)">400</text><text class="xt" transform="translate(226.2,296) scale(.43,1)">500</text>
<text class="ax" transform="translate(119,337) scale(.45,1)">n</text>
<text class="yl" transform="translate(-37,143.5) scale(.45,1) rotate(-90)">ASAE</text>
</g>

<!-- ROW 4 -->
<!-- KE B -->
<g transform="translate(50,1230)">
<rect x="0" y="45.5" width="237" height="219.5" fill="#fff"/>
<path class="gm" d="M0 70.6h237M0 125.4h237M0 180.6h237M0 235.8h237"/>
<path class="gM" d="M0 98h237M0 152.8h237M0 208.4h237M0 263.2h237"/>
<use xlink:href="#vB"/>
<rect x="159" y="57" width="44" height="124" fill="#fff"/>
<text class="lg" transform="translate(161,82) scale(.43,1)">colour</text>
<use xlink:href="#kR" x="169" y="117"/><text class="lg" transform="translate(182,124) scale(.43,1)">RSS</text>
<use xlink:href="#kS" x="169" y="156"/><text class="lg" transform="translate(182,163) scale(.43,1)">SRS</text>
<polyline class="sk" points="10.8,55 33.7,231 65.8,245.5 134.5,252.7 180.4,254.3 226.2,254.8"/>
<polyline class="sr" points="10.8,170.3 33.7,238.5 65.8,247.8 134.5,253 180.4,254.5 226.2,255"/>
<g stroke="#000"><use xlink:href="#m" x="10.8" y="55"/><use xlink:href="#m" x="33.7" y="231"/><use xlink:href="#m" x="65.8" y="245.5"/><use xlink:href="#m" x="134.5" y="252.7"/><use xlink:href="#m" x="180.4" y="254.3"/><use xlink:href="#m" x="226.2" y="254.8"/></g>
<g stroke="#f00"><use xlink:href="#m" x="10.8" y="170.3"/><use xlink:href="#m" x="33.7" y="238.5"/><use xlink:href="#m" x="65.8" y="247.8"/><use xlink:href="#m" x="134.5" y="253"/><use xlink:href="#m" x="180.4" y="254.5"/><use xlink:href="#m" x="226.2" y="255"/></g>
<rect class="fr" x="0" y="45.5" width="237" height="219.5"/>
<rect class="sp" x="0" y="1" width="237" height="44.5"/>
<text class="st" transform="translate(118.5,33) scale(.45,1)">KE</text>
<path class="tk" d="M-3.5 98h3.5M-3.5 152.8h3.5M-3.5 208.4h3.5M-3.5 263.2h3.5"/>
<text class="yt" transform="translate(-5,107) scale(.43,1)">0.15</text>
<text class="yt" transform="translate(-5,161.8) scale(.43,1)">0.10</text>
<text class="yt" transform="translate(-5,217.4) scale(.43,1)">0.05</text>
<text class="yt" transform="translate(-5,272.2) scale(.43,1)">0.00</text>
<use xlink:href="#tB"/>
<text class="xt" transform="translate(10.8,296) scale(.43,1)">30</text><text class="xt" transform="translate(33.7,296) scale(.43,1)">80</text><text class="xt" transform="translate(65.8,296) scale(.43,1)">150</text><text class="xt" transform="translate(134.5,296) scale(.43,1)">300</text><text class="xt" transform="translate(180.4,296) scale(.43,1)">400</text><text class="xt" transform="translate(226.2,296) scale(.43,1)">500</text>
<text class="ax" transform="translate(118.5,337) scale(.45,1)">n</text>
<text class="yl" transform="translate(-37,143.5) scale(.45,1) rotate(-90)">ASAE</text>
</g>

<!-- MSSD B -->
<g transform="translate(348,1230)">
<rect x="0" y="45.5" width="237" height="219.5" fill="#fff"/>
<path class="gm" d="M0 63h237M0 121.3h237M0 179.6h237M0 238h237"/>
<path class="gM" d="M0 92.2h237M0 150.5h237M0 208.8h237"/>
<use xlink:href="#vB"/>
<rect x="159" y="57" width="44" height="124" fill="#fff"/>
<text class="lg" transform="translate(161,82) scale(.43,1)">colour</text>
<use xlink:href="#kR" x="169" y="117"/><text class="lg" transform="translate(182,124) scale(.43,1)">RSS</text>
<use xlink:href="#kS" x="169" y="156"/><text class="lg" transform="translate(182,163) scale(.43,1)">SRS</text>
<polyline class="sk" points="10.8,55 33.7,215.8 65.8,241.5 134.5,251.5 180.4,253.9 226.2,254.5"/>
<polyline class="sr" points="10.8,136.5 33.7,222.8 65.8,242.7 134.5,251.8 180.4,254.2 226.2,255"/>
<g stroke="#000"><use xlink:href="#m" x="10.8" y="55"/><use xlink:href="#m" x="33.7" y="215.8"/><use xlink:href="#m" x="65.8" y="241.5"/><use xlink:href="#m" x="134.5" y="251.5"/><use xlink:href="#m" x="180.4" y="253.9"/><use xlink:href="#m" x="226.2" y="254.5"/></g>
<g stroke="#f00"><use xlink:href="#m" x="10.8" y="136.5"/><use xlink:href="#m" x="33.7" y="222.8"/><use xlink:href="#m" x="65.8" y="242.7"/><use xlink:href="#m" x="134.5" y="251.8"/><use xlink:href="#m" x="180.4" y="254.2"/><use xlink:href="#m" x="226.2" y="255"/></g>
<rect class="fr" x="0" y="45.5" width="237" height="219.5"/>
<rect class="sp" x="0" y="1" width="237" height="44.5"/>
<text class="st" transform="translate(118.5,33) scale(.45,1)">MSSD</text>
<path class="tk" d="M-3.5 92.2h3.5M-3.5 150.5h3.5M-3.5 208.8h3.5"/>
<text class="yt" transform="translate(-5,101.2) scale(.43,1)">0.15</text>
<text class="yt" transform="translate(-5,159.5) scale(.43,1)">0.10</text>
<text class="yt" transform="translate(-5,217.8) scale(.43,1)">0.05</text>
<use xlink:href="#tB"/>
<text class="xt" transform="translate(10.8,296) scale(.43,1)">30</text><text class="xt" transform="translate(33.7,296) scale(.43,1)">80</text><text class="xt" transform="translate(65.8,296) scale(.43,1)">150</text><text class="xt" transform="translate(134.5,296) scale(.43,1)">300</text><text class="xt" transform="translate(180.4,296) scale(.43,1)">400</text><text class="xt" transform="translate(226.2,296) scale(.43,1)">500</text>
<text class="ax" transform="translate(118.5,337) scale(.45,1)">n</text>
<text class="yl" transform="translate(-37,143.5) scale(.45,1) rotate(-90)">ASAE</text>
</g>

<!-- MSSLD B -->
<g transform="translate(646,1230)">
<rect x="0" y="45.5" width="237" height="219.5" fill="#fff"/>
<path class="gm" d="M0 70h237M0 129.8h237M0 189.5h237M0 249h237"/>
<path class="gM" d="M0 99.9h237M0 159.8h237M0 219.3h237"/>
<use xlink:href="#vB"/>
<rect x="159" y="57" width="44" height="124" fill="#fff"/>
<text class="lg" transform="translate(161,82) scale(.43,1)">colour</text>
<use xlink:href="#kR" x="169" y="117"/><text class="lg" transform="translate(182,124) scale(.43,1)">RSS</text>
<use xlink:href="#kS" x="169" y="156"/><text class="lg" transform="translate(182,163) scale(.43,1)">SRS</text>
<polyline class="sk" points="10.8,55 33.7,200.7 65.8,229.8 134.5,246.9 180.4,252 226.2,254.5"/>
<polyline class="sr" points="10.8,129.5 33.7,213.5 65.8,232.2 134.5,247.8 180.4,252.8 226.2,255"/>
<g stroke="#000"><use xlink:href="#m" x="10.8" y="55"/><use xlink:href="#m" x="33.7" y="200.7"/><use xlink:href="#m" x="65.8" y="229.8"/><use xlink:href="#m" x="134.5" y="246.9"/><use xlink:href="#m" x="180.4" y="252"/><use xlink:href="#m" x="226.2" y="254.5"/></g>
<g stroke="#f00"><use xlink:href="#m" x="10.8" y="129.5"/><use xlink:href="#m" x="33.7" y="213.5"/><use xlink:href="#m" x="65.8" y="232.2"/><use xlink:href="#m" x="134.5" y="247.8"/><use xlink:href="#m" x="180.4" y="252.8"/><use xlink:href="#m" x="226.2" y="255"/></g>
<rect class="fr" x="0" y="45.5" width="237" height="219.5"/>
<rect class="sp" x="0" y="1" width="237" height="44.5"/>
<text class="st" transform="translate(118.5,33) scale(.45,1)">MSSLD</text>
<path class="tk" d="M-3.5 99.9h3.5M-3.5 159.8h3.5M-3.5 219.3h3.5"/>
<text class="yt" transform="translate(-5,108.9) scale(.43,1)">0.06</text>
<text class="yt" transform="translate(-5,168.8) scale(.43,1)">0.04</text>
<text class="yt" transform="translate(-5,228.3) scale(.43,1)">0.02</text>
<use xlink:href="#tB"/>
<text class="xt" transform="translate(10.8,296) scale(.43,1)">30</text><text class="xt" transform="translate(33.7,296) scale(.43,1)">80</text><text class="xt" transform="translate(65.8,296) scale(.43,1)">150</text><text class="xt" transform="translate(134.5,296) scale(.43,1)">300</text><text class="xt" transform="translate(180.4,296) scale(.43,1)">400</text><text class="xt" transform="translate(226.2,296) scale(.43,1)">500</text>
<text class="ax" transform="translate(118.5,337) scale(.45,1)">n</text>
<text class="yl" transform="translate(-37,143.5) scale(.45,1) rotate(-90)">ASAE</text>
</g>

<!-- MSLND B -->
<g transform="translate(944,1230)">
<rect x="0" y="45.5" width="238" height="219.5" fill="#fff"/>
<path class="gm" d="M0 72.1h238M0 151.9h238M0 231.7h238"/>
<path class="gM" d="M0 112h238M0 191.8h238"/>
<use xlink:href="#vB"/>
<rect x="160" y="57" width="44" height="124" fill="#fff"/>
<text class="lg" transform="translate(162,82) scale(.43,1)">colour</text>
<use xlink:href="#kR" x="169" y="117"/><text class="lg" transform="translate(182,124) scale(.43,1)">RSS</text>
<use xlink:href="#kS" x="169" y="156"/><text class="lg" transform="translate(182,163) scale(.43,1)">SRS</text>
<polyline class="sk" points="10.8,55 33.7,193.7 65.8,236.8 134.5,249.7 180.4,253.2 226.2,254.5"/>
<polyline class="sr" points="10.8,100.3 33.7,220.5 65.8,239.9 134.5,250.2 180.4,253.5 226.2,255"/>
<g stroke="#000"><use xlink:href="#m" x="10.8" y="55"/><use xlink:href="#m" x="33.7" y="193.7"/><use xlink:href="#m" x="65.8" y="236.8"/><use xlink:href="#m" x="134.5" y="249.7"/><use xlink:href="#m" x="180.4" y="253.2"/><use xlink:href="#m" x="226.2" y="254.5"/></g>
<g stroke="#f00"><use xlink:href="#m" x="10.8" y="100.3"/><use xlink:href="#m" x="33.7" y="220.5"/><use xlink:href="#m" x="65.8" y="239.9"/><use xlink:href="#m" x="134.5" y="250.2"/><use xlink:href="#m" x="180.4" y="253.5"/><use xlink:href="#m" x="226.2" y="255"/></g>
<rect class="fr" x="0" y="45.5" width="238" height="219.5"/>
<rect class="sp" x="0" y="1" width="238" height="44.5"/>
<text class="st" transform="translate(119,33) scale(.45,1)">MSLND</text>
<path class="tk" d="M-3.5 112h3.5M-3.5 191.8h3.5"/>
<text class="yt" transform="translate(-5,121) scale(.43,1)">0.10</text>
<text class="yt" transform="translate(-5,200.8) scale(.43,1)">0.05</text>
<use xlink:href="#tB"/>
<text class="xt" transform="translate(10.8,296) scale(.43,1)">30</text><text class="xt" transform="translate(33.7,296) scale(.43,1)">80</text><text class="xt" transform="translate(65.8,296) scale(.43,1)">150</text><text class="xt" transform="translate(134.5,296) scale(.43,1)">300</text><text class="xt" transform="translate(180.4,296) scale(.43,1)">400</text><text class="xt" transform="translate(226.2,296) scale(.43,1)">500</text>
<text class="ax" transform="translate(119,337) scale(.45,1)">n</text>
<text class="yl" transform="translate(-37,143.5) scale(.45,1) rotate(-90)">ASAE</text>
</g>
</svg>
</body></html>
